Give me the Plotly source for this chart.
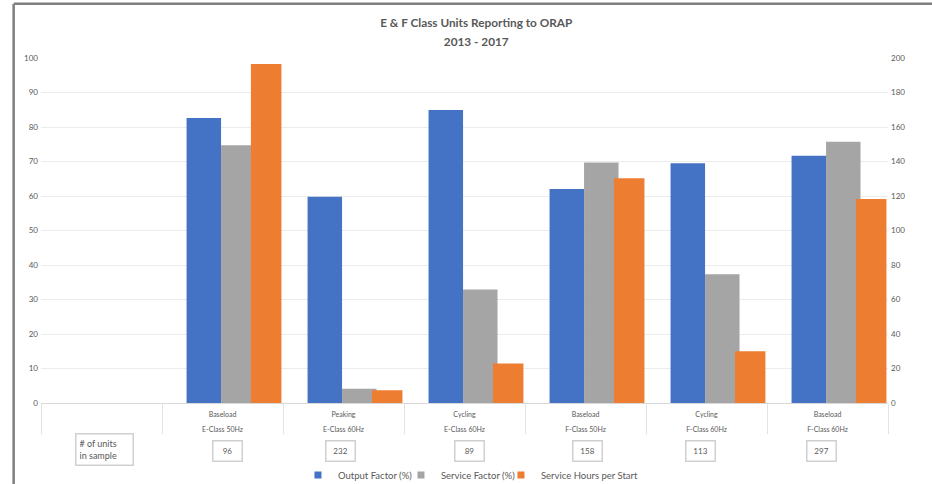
import plotly.graph_objects as go

# ---------------- data ----------------
duty = ["Baseload", "Peaking", "Cycling", "Baseload", "Cycling", "Baseload"]
frame_class = ["E-Class 50Hz", "E-Class 60Hz", "E-Class 60Hz", "F-Class 50Hz", "F-Class 60Hz", "F-Class 60Hz"]
output_factor = [82.6, 59.8, 84.9, 62.0, 69.5, 71.7]
service_factor = [74.7, 4.1, 32.9, 69.7, 37.3, 75.7]
service_hours_per_start = [196.5, 7.4, 22.9, 130.3, 30.0, 118.3]
units_in_sample = [96, 232, 89, 158, 113, 297]
series_names = ["Output Factor (%)", "Service Factor (%)", "Service Hours per Start"]

# ---------------- layout constants ----------------
FONT = "Lato"
TXT = "#595959"
C_BLUE = "#4472C4"
C_GREY = "#A5A5A5"
C_ORANGE = "#ED7D31"
colors = [C_BLUE, C_GREY, C_ORANGE]
legend_widths = [58, 55, 110]

keys = [f"{d}|{c}" for d, c in zip(duty, frame_class)]
blank = "__units__"
cat_order = [blank] + keys
tick_text = [""] + [
    f"<span style='font-size:7px'>{d}</span><br><span style='font-size:7px'>{c}</span>"
    for d, c in zip(duty, frame_class)
]

fig = go.Figure()
fig.add_trace(go.Bar(
    x=keys, y=output_factor, name=series_names[0],
    marker=dict(color=C_BLUE, line=dict(width=0)),
    offset=-0.297, width=0.285, yaxis="y", showlegend=False,
))
fig.add_trace(go.Bar(
    x=keys, y=service_factor, name=series_names[1],
    marker=dict(color=C_GREY, line=dict(width=0)),
    offset=-0.012, width=0.285, yaxis="y", showlegend=False,
))
fig.add_trace(go.Bar(
    x=keys, y=service_hours_per_start, name=series_names[2],
    marker=dict(color=C_ORANGE, line=dict(width=0)),
    offset=0.235, width=0.252, yaxis="y2", showlegend=False,
))
# legend entries (small square swatches, like the original)
for nm, col, lw in zip(series_names, colors, legend_widths):
    fig.add_trace(go.Scatter(
        x=[None], y=[None], mode="markers", name=nm,
        marker=dict(symbol="square", size=7, color=col, line=dict(width=0)),
        showlegend=True, legendwidth=lw,
    ))

annotations = []
annotations.append(dict(
    x=blank, xref="x", y=-0.136, yref="paper", yanchor="middle", xanchor="center",
    xshift=3, text="# of units<br>in sample", showarrow=False, align="left",
    font=dict(family=FONT, size=9, color=TXT),
    bordercolor="#d0d0d0", borderwidth=1.5, borderpad=3, width=50, height=24,
))
box_shift = [5, -3, 5, 2, -6, -6]
for k, n, s in zip(keys, units_in_sample, box_shift):
    annotations.append(dict(
        x=k, xref="x", y=-0.139, yref="paper", yanchor="middle", xanchor="center",
        xshift=s, text=str(n), showarrow=False,
        font=dict(family=FONT, size=8, color=TXT),
        bordercolor="#d0d0d0", borderwidth=1.5, borderpad=2, width=24, height=15,
    ))

shapes = [
    dict(type="line", xref="paper", yref="paper", x0=-0.032, x1=1.06, y0=1.157, y1=1.157,
         line=dict(color="#7f7f7f", width=2.5)),
    dict(type="line", xref="paper", yref="paper", x0=-0.0323, x1=-0.0323,
         y0=1.157, y1=-0.3, line=dict(color="#7f7f7f", width=2.5)),
]

title_lines = ["E & F Class Units Reporting to ORAP", "2013 - 2017"]
title_text = "<br>".join(f"<b><span style='font-size:11.8px'>{t}</span></b>" for t in title_lines)

fig.update_layout(
    width=932, height=484,
    margin=dict(l=41, r=44, t=58, b=81, autoexpand=False),
    paper_bgcolor="white", plot_bgcolor="white",
    barmode="overlay",
    title=dict(
        text=title_text,
        x=0.511, xanchor="center", xref="container",
        y=1 - 27 / 484, yanchor="top", yref="container",
        font=dict(family=FONT, size=14.5, color=TXT),
    ),
    font=dict(family=FONT, color=TXT),
    xaxis=dict(
        type="category", categoryorder="array", categoryarray=cat_order,
        range=[-0.5, len(cat_order) - 0.5],
        tickmode="array", tickvals=cat_order, ticktext=tick_text,
        tickson="boundaries", ticks="outside", ticklen=30, tickwidth=1, tickcolor="#e3e3e3",
        ticklabelstandoff=-1,
        tickfont=dict(family=FONT, size=11.5, color=TXT),
        showline=True, linecolor="#d9d9d9", linewidth=1,
        showgrid=False, zeroline=False, fixedrange=True,
    ),
    yaxis=dict(
        range=[0, 100], dtick=10, tick0=0,
        showgrid=True, gridcolor="#ececec", gridwidth=1,
        zeroline=False, showline=False, ticks="",
        tickfont=dict(family=FONT, size=8, color=TXT),
        ticklabelstandoff=2,
    ),
    yaxis2=dict(
        range=[0, 200], dtick=20, tick0=0, overlaying="y", side="right",
        showgrid=False, zeroline=False, showline=False, ticks="",
        tickfont=dict(family=FONT, size=8, color=TXT),
        ticklabelstandoff=2,
    ),
    legend=dict(
        orientation="h", x=0.3034, xanchor="left", y=-0.209, yanchor="middle",
        yref="paper", font=dict(family=FONT, size=9.5, color=TXT),
        itemwidth=30, traceorder="normal", bgcolor="rgba(0,0,0,0)",
        tracegroupgap=0,
    ),
    annotations=annotations,
    shapes=shapes,
    showlegend=True,
)

fig.write_html("out.html")
